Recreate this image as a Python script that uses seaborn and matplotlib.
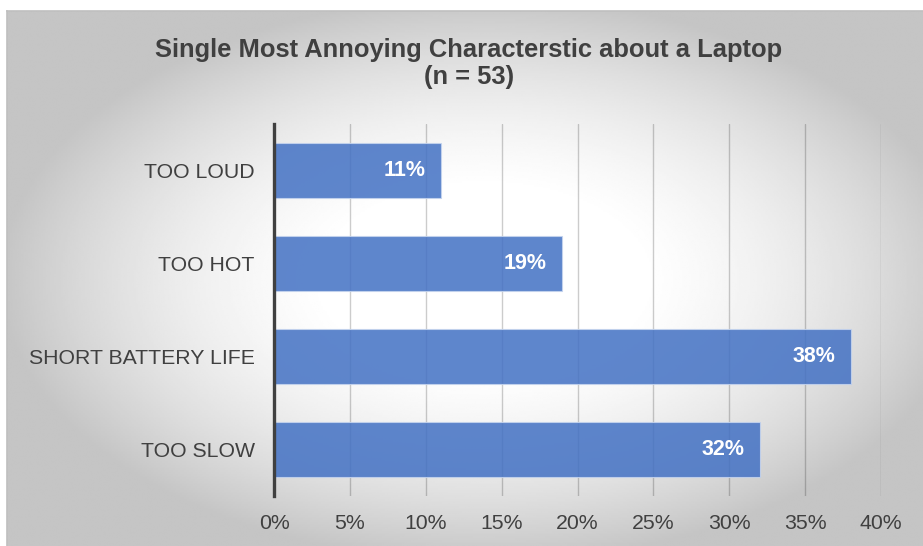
import numpy as np
import pandas as pd
import seaborn as sns
import matplotlib.pyplot as plt

# chart data
categories = ["TOO LOUD", "TOO HOT", "SHORT BATTERY LIFE", "TOO SLOW"]
shares = [0.11, 0.19, 0.38, 0.32]
value_labels = ["11%", "19%", "38%", "32%"]
x_ticks = [0.0, 0.05, 0.10, 0.15, 0.20, 0.25, 0.30, 0.35, 0.40]
x_tick_labels = ["0%", "5%", "10%", "15%", "20%", "25%", "30%", "35%", "40%"]
title = "Single Most Annoying Characterstic about a Laptop\n(n = 53)"

sns.set_style("white")
plt.rcParams['font.family'] = ['Liberation Sans', 'DejaVu Sans']

W, H = 923, 546
fig = plt.figure(figsize=(W / 100, H / 100), dpi=100)
fig.patch.set_facecolor("white")

# radial gradient background of the chart area (white centre, grey edges)
bg = fig.add_axes([7 / W, 0, 1 - 7 / W, 1 - 11 / H])
ny, nx = 300, 500
yy, xx = np.mgrid[0:ny, 0:nx]
d2 = ((xx - 0.52 * nx) / (0.5 * nx)) ** 2 + ((yy - 0.5 * ny) / (0.5 * ny)) ** 2
shade = np.clip(1.0 - 0.23 * (d2 - 0.12), 0.77, 1.0)
bg.imshow(shade, cmap="gray", vmin=0, vmax=1, aspect="auto",
          extent=[0, 1, 0, 1], origin="upper", interpolation="bilinear")
bg.set_xticks([])
bg.set_yticks([])
for side in ["right", "bottom"]:
    bg.spines[side].set_visible(False)
for side in ["top", "left"]:
    bg.spines[side].set_color("#bfbfbf")
    bg.spines[side].set_linewidth(1.2)

# main axes
ax = fig.add_axes([274 / W, 1 - 496 / H, (881 - 274) / W, (496 - 124) / H])
ax.set_facecolor("none")

data = pd.DataFrame({"Category": categories, "Share": shares})
sns.barplot(data=data, x="Share", y="Category", orient="h", ax=ax,
            color="#4472C4", saturation=1, alpha=0.86, width=0.6,
            edgecolor="#c5d4ee", linewidth=0.8, zorder=3)

ax.set_xlim(0, 0.40)
ax.set_xticks(x_ticks)
ax.set_xticklabels(x_tick_labels)
ax.set_xlabel("")
ax.set_ylabel("")
ax.xaxis.grid(True, color="black", alpha=0.2, linewidth=1.0, zorder=1)
ax.set_axisbelow(True)
ax.tick_params(axis="both", length=0, labelsize=15.3, labelcolor="#404040")
ax.tick_params(axis="y", pad=14)
ax.tick_params(axis="x", pad=13)
for side in ["top", "right", "bottom"]:
    ax.spines[side].set_visible(False)
ax.spines["left"].set_color("#404040")
ax.spines["left"].set_linewidth(2.4)
ax.spines["left"].set_zorder(5)

for i, (v, lab) in enumerate(zip(shares, value_labels)):
    ax.annotate(lab, xy=(v, i), xytext=(-11, 0), textcoords="offset points",
                ha="right", va="center", color="white", fontsize=15.5,
                fontweight="bold", zorder=6)

fig.text(469 / W, 1 - 63.5 / H, title, ha="center", va="center",
         fontsize=18.4, fontweight="bold", color="#404040", linespacing=1.2)

fig.savefig("out.png", dpi=100)
